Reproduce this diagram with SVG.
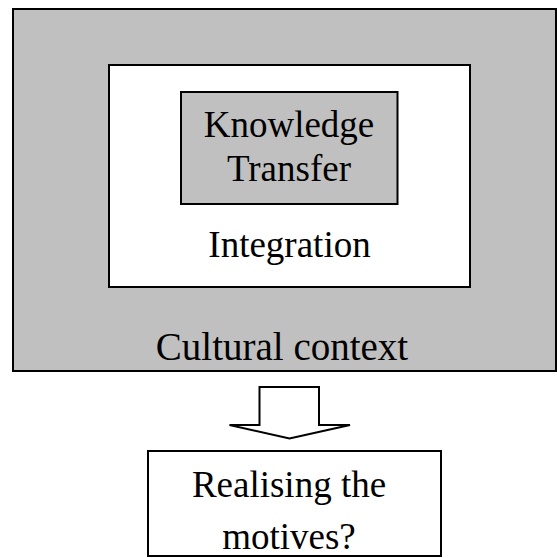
<svg xmlns="http://www.w3.org/2000/svg" width="557" height="558" viewBox="0 0 557 558">
<style>
.box{stroke:#000;stroke-width:2}
.grey{fill:#c0c0c0}
.white{fill:#fff}
text{font-family:"Liberation Serif","Times New Roman",serif;font-size:37px;fill:#000;text-anchor:middle}
</style>
<rect width="557" height="558" fill="#fff"/>
<g id="cultural">
<rect class="box grey" x="13" y="9" width="543" height="362"/>
<text x="282" y="360" style="font-size:39px">Cultural context</text>
</g>
<g id="integration">
<rect class="box white" x="109" y="65" width="361" height="222"/>
<text x="289.5" y="257">Integration</text>
</g>
<g id="knowledge">
<rect class="box grey" x="181" y="92" width="216.5" height="112"/>
<text x="289" y="137">Knowledge</text>
<text x="289" y="181">Transfer</text>
</g>
<g id="connectors">
<path d="M259.5,425 V387 H319 V425 H350 L289.5,438.5 L229.5,425 Z" fill="#fff" stroke="#000" stroke-width="2" stroke-linejoin="miter"/>
</g>
<g id="realising">
<rect class="box white" x="148" y="451" width="293" height="105"/>
<text x="289" y="497">Realising the</text>
<text x="289" y="549">motives?</text>
</g>
</svg>
